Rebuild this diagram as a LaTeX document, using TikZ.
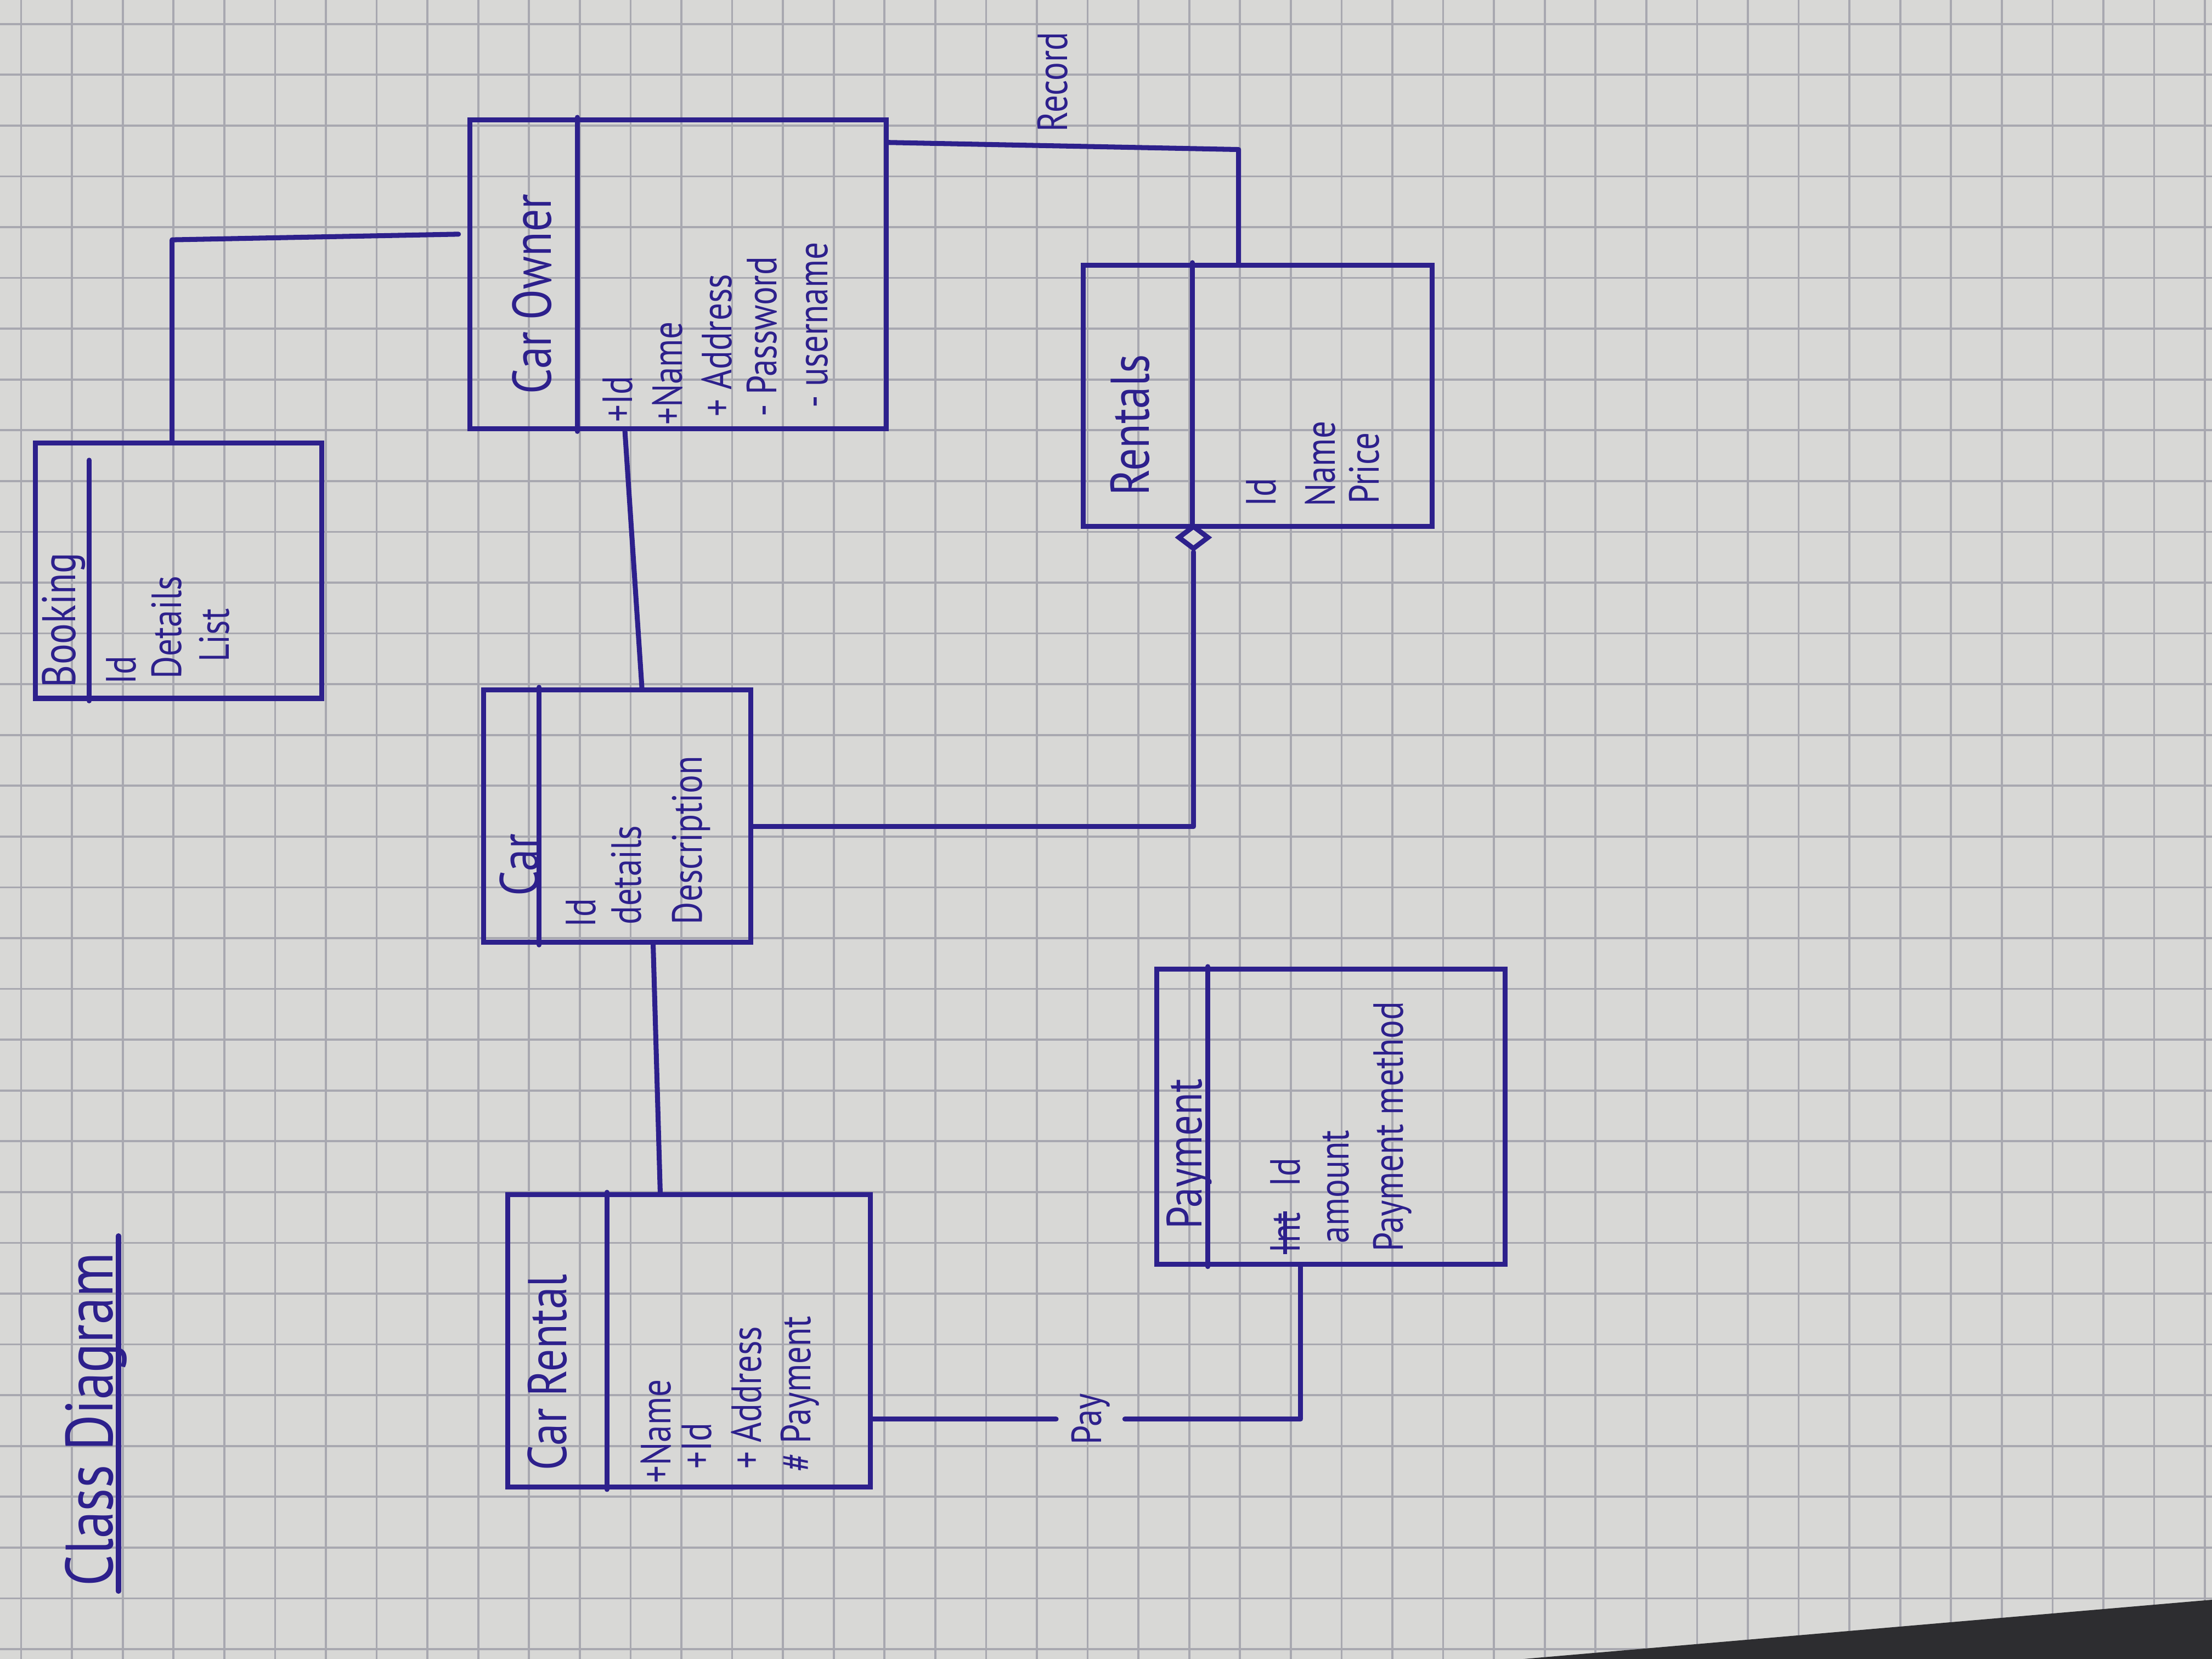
\documentclass[tikz,border=0pt]{standalone}
\usepackage{fontspec}
\setmainfont{PT Sans}[FakeStretch=0.82]
\usetikzlibrary{shapes.geometric}
\definecolor{ink}{RGB}{45,32,140}
\definecolor{paper}{RGB}{216,216,214}
\definecolor{gridc}{RGB}{168,168,176}
\definecolor{desk}{RGB}{45,45,48}
\begin{document}
\begin{tikzpicture}[x=0.01cm,y=-0.01cm,
 classbox/.style={draw=ink, line width=1pt, rectangle, inner sep=0pt},
 divider/.style={draw=ink, line width=1pt, line cap=round},
 conn/.style={draw=ink, line width=1pt, line join=round, line cap=round},
 hdr/.style={text=ink, rotate=90, anchor=west, inner sep=0pt, font=\fontsize{11}{13}\selectfont},
 attr/.style={text=ink, rotate=90, anchor=west, inner sep=0pt, font=\fontsize{8.5}{10}\selectfont},
 lbl/.style={text=ink, rotate=90, inner sep=0pt, font=\fontsize{8.5}{10}\selectfont},
 gridline/.style={draw=gridc, line width=0.4pt},
 aggdiamond/.style={draw=ink, fill=paper, line width=1pt, diamond, inner sep=0pt, minimum width=0.22cm, minimum height=0.17cm}]

% paper
\fill[paper] (0,0) rectangle (1568,1176);
\useasboundingbox (0,0) rectangle (1568,1176);
\foreach \i in {15,51,...,1568} \draw[gridline] (\i,0) -- (\i,1176);
\foreach \j in {17,53,...,1176} \draw[gridline] (0,\j) -- (1568,\j);
\fill[desk] (1080,1176) -- (1568,1134) -- (1568,1176) -- cycle;

% title
\node[text=ink, rotate=90, anchor=west, inner sep=0pt, font=\fontsize{13.5}{15}\selectfont] (title) at (68,1125) {Class Diagram};
\coordinate (ulA) at (84,1128);
\coordinate (ulB) at (84,876);
\draw[conn] (ulA) -- (ulB);

% class boxes
\node[classbox, minimum width=2.03cm, minimum height=1.81cm] (booking) at (126.5,404.5) {};
\node[classbox, minimum width=2.95cm, minimum height=2.19cm] (owner) at (480.5,194.5) {};
\node[classbox, minimum width=1.89cm, minimum height=1.79cm] (car) at (437.5,578.5) {};
\node[classbox, minimum width=2.47cm, minimum height=1.85cm] (rentals) at (891.5,280.5) {};
\node[classbox, minimum width=2.57cm, minimum height=2.07cm] (rental) at (488.5,950.5) {};
\node[classbox, minimum width=2.47cm, minimum height=2.09cm] (payment) at (943.5,791.5) {};

% dividers
\draw[divider] ([xshift=0.40cm,yshift=-0.14cm]booking.north west) -- ([xshift=0.40cm]booking.south west);
\draw[divider] ([xshift=0.78cm]owner.north west) -- ([xshift=0.78cm]owner.south west);
\draw[divider] ([xshift=0.41cm]car.north west) -- ([xshift=0.41cm]car.south west);
\draw[divider] ([xshift=0.79cm]rentals.north west) -- ([xshift=0.79cm]rentals.south west);
\draw[divider] ([xshift=0.72cm]rental.north west) -- ([xshift=0.72cm]rental.south west);
\draw[divider] ([xshift=0.38cm]payment.north west) -- ([xshift=0.38cm]payment.south west);

% Booking
\node[hdr, font=\fontsize{9.5}{11}\selectfont] (bkname) at (45,488) {Booking};
\node[attr] (bk1) at (86,486) {Id};
\node[attr] (bk2) at (118,482) {Details};
\node[attr] (bk3) at (152,470) {List};

% Car Owner
\node[hdr] (owname) at (377,280) {Car Owner};
\node[attr] (ow1) at (438,300) {+Id};
\node[attr] (ow2) at (473,302) {+Name};
\node[attr] (ow3) at (508,296) {+ Address};
\node[attr] (ow4) at (540,296) {- Password};
\node[attr] (ow5) at (579,290) {- username};

% Car
\node[hdr] (carname) at (368,636) {Car};
\node[attr] (car1) at (412,658) {Id};
\node[attr] (car2) at (444,656) {details};
\node[attr] (car3) at (490,656) {Description};

% Rentals
\node[hdr] (rtname) at (801,352) {Rentals};
\node[attr] (rt1) at (894,360) {Id};
\node[attr] (rt2) at (936,360) {Name};
\node[attr] (rt3) at (967,358) {Price};

% Car Rental
\node[hdr] (crname) at (388,1043) {Car Rental};
\node[attr] (cr1) at (465,1052) {+Name};
\node[attr] (cr2) at (494,1042) {+Id};
\node[attr] (cr3) at (529,1042) {+ Address};
\node[attr] (cr4) at (567,1044) {\# Payment};

% Payment
\node[hdr, font=\fontsize{10}{12}\selectfont] (pmname) at (843,872) {Payment};
\node[attr] (pm1a) at (911,889) {Int};
\draw[ink, line width=0.8pt] (pm1a.west) -- (pm1a.east);
\node[attr] (pm1) at (911,842) {Id};
\node[attr] (pm2) at (947,882) {amount};
\node[attr] (pm3) at (987,888) {Payment method};

% labels
\node[lbl] (record) at (746,58) {Record};
\node[lbl] (pay) at (773,1006) {Pay};

% helper coordinates
\coordinate (bkc) at (122,170);
\coordinate (bkend) at (325,166);
\coordinate (ocA) at (443,0);
\coordinate (ocB) at (455,0);
\coordinate (orA) at (0,101);
\coordinate (orB) at (878,106);
\coordinate (rcA) at (0,586);
\coordinate (ccA) at (463,0);
\coordinate (ccB) at (468,0);
\coordinate (prD) at (922,0);

% connectors
\draw[conn] (booking.north -| bkc) -- (bkc) -- (bkend);
\draw[conn] (owner.south -| ocA) -- (car.north -| ocB);
\draw[conn] (owner.east |- orA) -- (orB) -- (rentals.north -| orB);
\node[aggdiamond] (agg) at (846,381) {};
\draw[conn] (agg.south) -- (agg.south |- rcA) -- (car.east |- rcA);
\draw[conn] (car.south -| ccA) -- (rental.north -| ccB);
\draw[conn] (rental.east |- pay.north) -- ([xshift=-0.1cm]pay.north);
\draw[conn] ([xshift=0.1cm]pay.south) -- (pay.south -| prD) -- (payment.south -| prD);
\end{tikzpicture}
\end{document}
